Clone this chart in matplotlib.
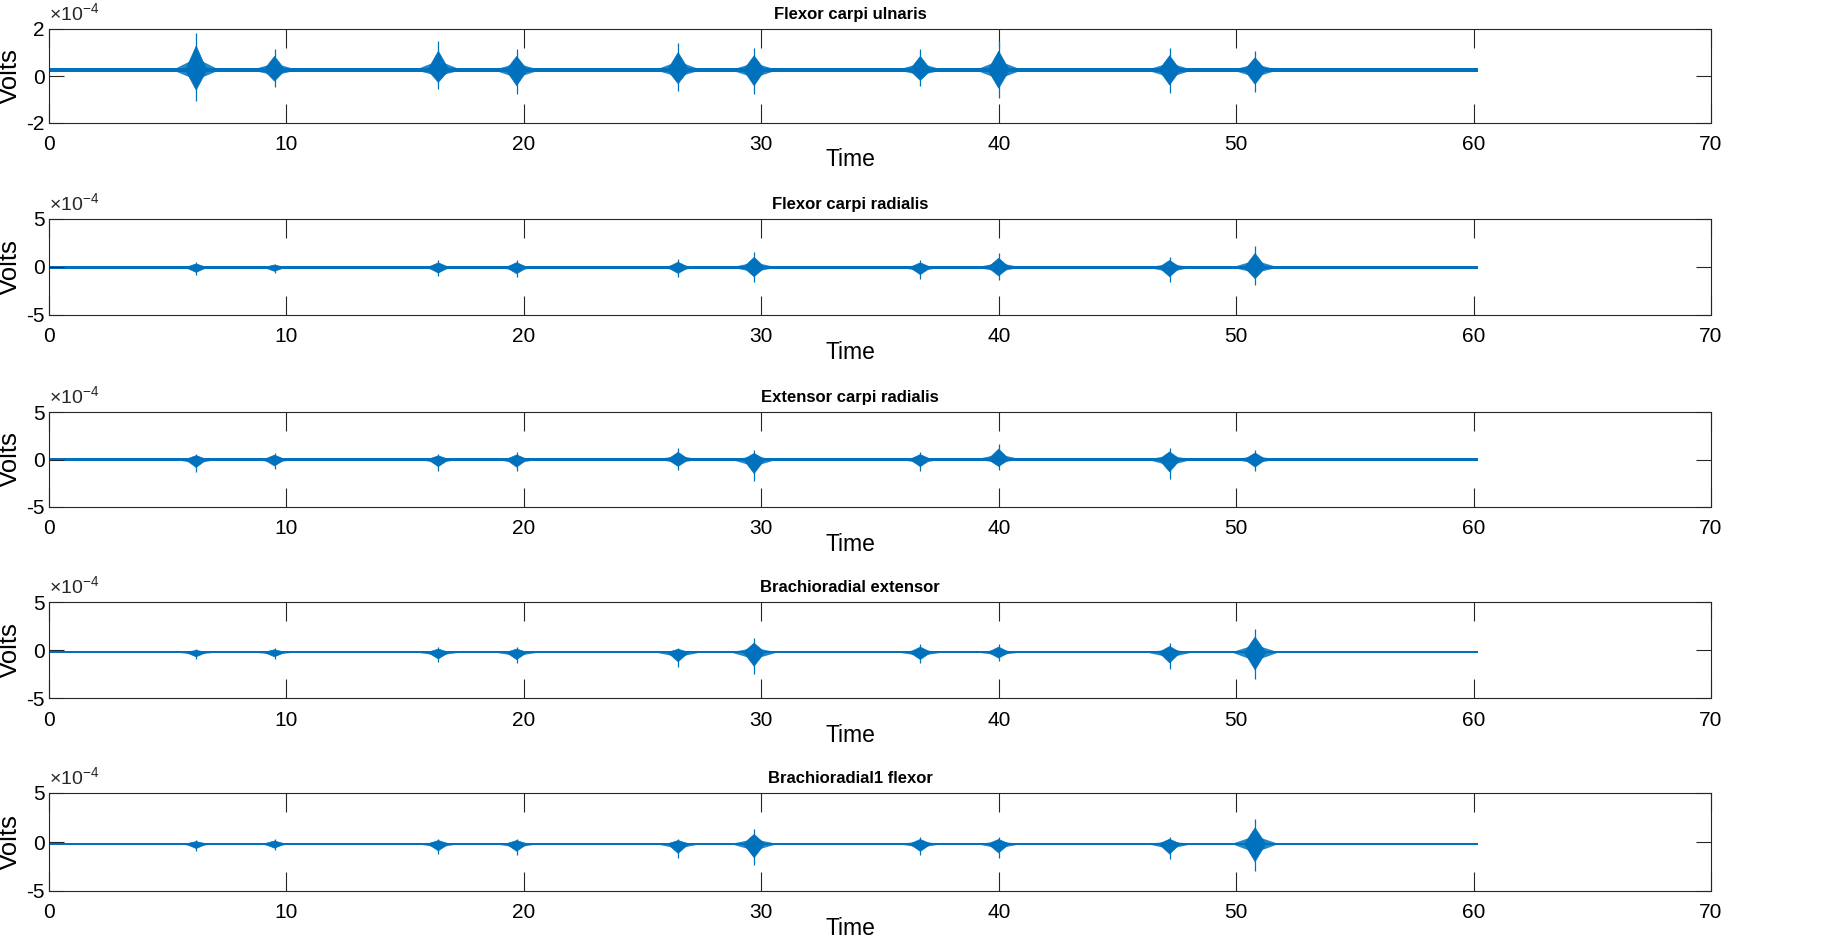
import numpy as np
import matplotlib
matplotlib.use("Agg")
import matplotlib.pyplot as plt

plt.rcParams['font.family'] = ['Liberation Sans', 'DejaVu Sans']
plt.rcParams['mathtext.fontset'] = 'custom'
plt.rcParams['mathtext.rm'] = 'Liberation Sans'
plt.rcParams['mathtext.it'] = 'Liberation Sans'

# ---- data (amplitudes in units of 1e-4 V) ----
titles = ["Flexor carpi ulnaris", "Flexor carpi radialis", "Extensor carpi radialis",
          "Brachioradial extensor", "Brachioradial1 flexor"]
burst_times = [6.2, 9.5, 16.4, 19.7, 26.5, 29.7, 36.7, 40.0, 47.2, 50.8]
ch1_hi = [1.83, 1.15, 1.49, 1.15, 1.40, 1.19, 1.15, 1.49, 1.19, 1.06]
ch1_lo = [-1.06, -0.47, -0.55, -0.77, -0.64, -0.77, -0.43, -0.94, -0.72, -0.68]
ch2_hi = [0.52, 0.35, 0.70, 0.73, 0.80, 1.57, 0.70, 1.43, 1.08, 2.20]
ch2_lo = [-0.84, -0.66, -0.94, -1.05, -1.00, -1.53, -1.20, -1.40, -1.53, -1.85]
ch3_hi = [0.63, 0.70, 0.60, 0.74, 1.16, 0.98, 0.80, 1.68, 1.23, 1.05]
ch3_lo = [-1.30, -1.05, -1.16, -1.23, -1.12, -2.28, -1.16, -1.12, -2.00, -1.23]
ch4_hi = [0.07, 0.18, 0.28, 0.28, 0.25, 1.23, 0.60, 0.60, 0.70, 2.20]
ch4_lo = [-0.95, -0.95, -1.30, -1.40, -1.75, -2.46, -1.40, -1.16, -1.93, -3.05]
ch5_hi = [0.17, 0.27, 0.34, 0.34, 0.34, 1.30, 0.51, 0.51, 0.55, 2.33]
ch5_lo = [-0.92, -0.86, -1.27, -1.34, -1.68, -2.36, -1.37, -1.61, -1.78, -2.98]
baseline = [0.25, -0.05, 0.0, -0.25, -0.2]
noise = [0.10, 0.12, 0.11, 0.11, 0.11]
ylim_abs = [2, 5, 5, 5, 5]
record_end = 60.2
xticks = [0, 10, 20, 30, 40, 50, 60, 70]

his = [ch1_hi, ch2_hi, ch3_hi, ch4_hi, ch5_hi]
los = [ch1_lo, ch2_lo, ch3_lo, ch4_lo, ch5_lo]

# ---- layout (pixels measured on 1829x940) ----
W, H = 1829, 940
left_px, right_px = 49, 1711
tops = [29, 219, 412, 602, 793]
bots = [123, 315, 507, 698, 891]

color = '#0072BD'
edge = '#262626'
fig = plt.figure(figsize=(W / 100, H / 100), dpi=100)

core_w = 0.45
core_f = 0.65
outer_w = 1.0
outer_f = 0.32

for i in range(5):
    ax = fig.add_axes([left_px / W, 1 - bots[i] / H, (right_px - left_px) / W,
                       (bots[i] - tops[i]) / H])
    b, n = baseline[i], noise[i]
    ax.fill_between([0, record_end], [b - n, b - n], [b + n, b + n], color=color, lw=0)
    for t, hi, lo in zip(burst_times, his[i], los[i]):
        ax.fill([t - outer_w, t, t + outer_w, t],
                [b, b + outer_f * (hi - b), b, b + outer_f * (lo - b)],
                color=color, lw=0, alpha=0.85)
        ax.fill([t - core_w, t, t + core_w, t],
                [b, b + core_f * (hi - b), b, b + core_f * (lo - b)],
                color=color, lw=0.5)
        ax.vlines([t], [lo], [hi], color=color, lw=0.9)
    a = ylim_abs[i]
    ax.set_xlim(0, 70)
    ax.set_ylim(-a, a)
    ax.set_xticks(xticks)
    ax.set_yticks([-a, 0, a])
    ax.set_xticklabels([str(v) for v in xticks])
    ax.set_yticklabels([str(-a), '0', str(a)])
    ax.tick_params(axis='x', direction='in', length=14, width=0.8, color=edge,
                   top=True, labelsize=15, pad=9)
    ax.tick_params(axis='y', direction='in', length=11, width=0.8, color=edge,
                   right=True, labelsize=15, pad=3)
    for s in ax.spines.values():
        s.set_color(edge)
        s.set_linewidth(0.8)
    ax.set_xlabel('Time', fontsize=16.5)
    ax.xaxis.set_label_coords(0.482, -0.27)
    ax.xaxis.label.set_va('top')
    ax.set_ylabel('Volts', fontsize=18.5)
    ax.yaxis.set_label_coords(-0.0165, 0.5)
    ax.text(0.482, 1.07, titles[i], transform=ax.transAxes, ha='center', va='bottom',
            fontsize=12, fontweight='bold')
    ax.text(0.0, 1.05, r'$\times10^{-4}$', transform=ax.transAxes, ha='left',
            va='bottom', fontsize=14, color=edge)

fig.savefig('out.png', dpi=100)
